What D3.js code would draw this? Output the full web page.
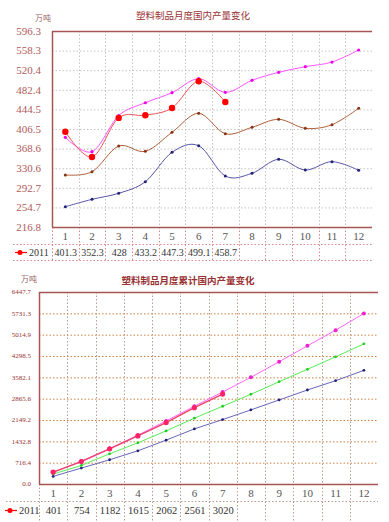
<!DOCTYPE html>
<html>
<head>
<meta charset="utf-8">
<style>
    body { margin: 0; background: #fff; }
    svg { display: block; }
    .num { font-family: "Liberation Serif", serif; }
    .cjk { font-family: "Noto Sans CJK SC", sans-serif; }
</style>
<script src="https://cdn.jsdelivr.net/npm/d3@7"></script>
</head>
<body>
<svg width="389" height="522"></svg>
<script>
    // data
    let months = ["1", "2", "3", "4", "5", "6", "7", "8", "9", "10", "11", "12"];

    let prod2011 = [401.3, 352.3, 428, 433.2, 447.3, 499.1, 458.7];
    let prodPink = [390.5, 362.6, 432.3, 457.4, 476.8, 503.9, 477.5, 500.8, 516.3, 527.2, 536.2, 559.5];
    let prodBrown = [317.5, 323.9, 373.5, 363.3, 400.1, 436.9, 397.4, 409.8, 425.3, 407.9, 414.9, 446.6];
    let prodNavy = [256.1, 270.4, 282, 304.5, 361.4, 374.2, 315.5, 320.8, 347.9, 327.2, 343.3, 326.6];
    let prodTicks = ["216.8", "254.7", "292.7", "330.6", "368.6", "406.5", "444.5", "482.4", "520.4", "558.3", "596.3"];

    let cum2011 = [401, 754, 1182, 1615, 2062, 2561, 3020];
    let cumPink = [390, 770, 1192, 1640, 2119, 2611, 3090, 3582, 4105, 4640, 5166, 5725];
    let cumGreen = [335, 623, 1014, 1383, 1784, 2210, 2611, 3013, 3435, 3850, 4272, 4707];
    let cumNavy = [254, 535, 814, 1115, 1473, 1851, 2163, 2488, 2822, 3157, 3469, 3817];
    let cumTicks = ["0.0", "716.4", "1432.8", "2149.2", "2865.6", "3582.1", "4298.5", "5014.9", "5731.3", "6447.7"];

    let svg = d3.select("svg");
    let axisColor = "#a65454";

    function drawChart(o) {
        let g = svg.append("g");
        let x = d3.scaleBand().domain(months).range([o.left, o.right]);
        let y = d3.scaleLinear().domain([+o.ticks[0], +o.ticks[o.ticks.length - 1]]).range([o.bottom, o.top]);

        // horizontal grid
        g.selectAll(".hg").data(o.ticks.slice(1, -1)).enter().append("line")
            .attr("x1", o.left).attr("x2", o.right)
            .attr("y1", d => y(+d) + 0.5).attr("y2", d => y(+d) + 0.5)
            .attr("stroke", o.hGrid).attr("stroke-dasharray", "1.5,2");

        // vertical grid in plot
        let bounds = months.slice(1).map(m => x(m));
        g.selectAll(".vg").data(bounds).enter().append("line")
            .attr("x1", d => Math.round(d) + 0.5).attr("x2", d => Math.round(d) + 0.5)
            .attr("y1", o.top).attr("y2", o.bottom)
            .attr("stroke", o.vGrid).attr("stroke-dasharray", "1.5,2");

        // table lines below axis
        g.selectAll(".tv").data([o.left].concat(bounds)).enter().append("line")
            .attr("x1", d => Math.round(d) + 0.5).attr("x2", d => Math.round(d) + 0.5)
            .attr("y1", o.bottom).attr("y2", o.tableBottom)
            .attr("stroke", o.tableColor).attr("stroke-dasharray", "1.5,2");
        g.selectAll(".th").data(o.tableLines).enter().append("line")
            .attr("x1", o.tableLeft).attr("x2", o.right)
            .attr("y1", d => d + 0.5).attr("y2", d => d + 0.5)
            .attr("stroke", o.tableColor).attr("stroke-dasharray", "1.5,2");

        // axes frame
        g.append("line").attr("x1", o.left).attr("x2", o.right)
            .attr("y1", o.top + 0.5).attr("y2", o.top + 0.5)
            .attr("stroke", axisColor).attr("stroke-width", 1.5);
        g.append("line").attr("x1", o.left).attr("x2", o.right)
            .attr("y1", o.bottom + 0.5).attr("y2", o.bottom + 0.5)
            .attr("stroke", axisColor).attr("stroke-width", 1.5);
        g.append("line").attr("x1", o.left + 0.5).attr("x2", o.left + 0.5)
            .attr("y1", o.top).attr("y2", o.bottom)
            .attr("stroke", axisColor).attr("stroke-width", 1.5);

        // y tick labels
        g.selectAll(".yl").data(o.ticks).enter().append("text")
            .attr("class", "num")
            .attr("x", o.left - o.labelGap).attr("y", d => y(+d))
            .attr("dy", "0.35em").attr("text-anchor", "end")
            .attr("font-size", o.yFont).attr("fill", o.yColor)
            .text(d => d);

        // x tick labels
        g.selectAll(".xl").data(months).enter().append("text")
            .attr("class", "num")
            .attr("x", d => x(d) + x.bandwidth() / 2).attr("y", o.xLabelY)
            .attr("text-anchor", "middle").attr("font-size", o.xFont).attr("fill", "#555")
            .text(d => d);

        // title and unit
        g.append("text").attr("class", "cjk")
            .attr("x", o.titleX).attr("y", o.titleY).attr("text-anchor", "middle")
            .attr("font-size", 9.5).attr("font-weight", o.titleWeight).attr("fill", "#993333")
            .text(o.title);
        g.append("text").attr("class", "cjk")
            .attr("x", o.unitX).attr("y", o.unitY)
            .attr("font-size", 8).attr("fill", "#996666")
            .text("万吨");

        let line = d3.line()
            .x((d, i) => x(months[i]) + x.bandwidth() / 2)
            .y(d => y(d))
            .curve(o.curve);

        o.series.forEach(s => {
            g.append("path").datum(s.values)
                .attr("d", line).attr("fill", "none")
                .attr("stroke", s.color).attr("stroke-width", s.width);
            g.selectAll(null).data(s.values).enter().append("circle")
                .attr("cx", (d, i) => x(months[i]) + x.bandwidth() / 2)
                .attr("cy", d => y(d))
                .attr("r", s.r).attr("fill", s.dot);
        });

        // table row
        let ly = o.rowY, lx = o.legendX;
        g.append("line").attr("x1", lx).attr("x2", lx + 12)
            .attr("y1", ly - 3.5).attr("y2", ly - 3.5).attr("stroke", "#ff0000").attr("stroke-width", 1.2);
        g.append("circle").attr("cx", lx + 5).attr("cy", ly - 3.5).attr("r", 2.5).attr("fill", "#ff0000");
        g.append("text").attr("class", "num")
            .attr("x", lx + 14).attr("y", ly)
            .attr("font-size", o.rowFont).attr("fill", "#333").text("2011");
        g.selectAll(".tv2").data(o.rowValues).enter().append("text")
            .attr("class", "num")
            .attr("x", (d, i) => x(months[i]) + x.bandwidth() / 2 + 0.5).attr("y", ly)
            .attr("text-anchor", "middle")
            .attr("font-size", o.rowFont).attr("fill", "#333")
            .text(d => d);
    }

    drawChart({
        left: 52, right: 372, top: 31, bottom: 227,
        ticks: prodTicks, hGrid: "#c4c4c4", vGrid: "#c4c4c4", tableColor: "#d88888",
        tableLeft: 13, tableLines: [244, 260], tableBottom: 260,
        labelGap: 11, yFont: 11, yColor: "#b05a5a", xFont: 11, xLabelY: 240,
        title: "塑料制品月度国内产量变化", titleX: 193, titleY: 19, titleWeight: "normal",
        unitX: 35, unitY: 21,
        curve: d3.curveCardinal,
        series: [
            { values: prodNavy, color: "#5555aa", dot: "#222277", width: 1, r: 1.5 },
            { values: prodBrown, color: "#b0603a", dot: "#883311", width: 1, r: 1.5 },
            { values: prodPink, color: "#ff55ff", dot: "#ee00ee", width: 1, r: 1.6 },
            { values: prod2011, color: "#ee5555", dot: "#ff0000", width: 1, r: 3.2 }
        ],
        legendX: 15, rowY: 256, rowFont: 10, rowValues: prod2011
    });

    drawChart({
        left: 39, right: 378, top: 292, bottom: 484,
        ticks: cumTicks, hGrid: "#d08040", vGrid: "#b89a90", tableColor: "#b89a90",
        tableLeft: 6, tableLines: [501], tableBottom: 522,
        labelGap: 8, yFont: 7, yColor: "#993333", xFont: 11, xLabelY: 497,
        title: "塑料制品月度累计国内产量变化", titleX: 188, titleY: 284, titleWeight: "bold",
        unitX: 21, unitY: 282,
        curve: d3.curveLinear,
        series: [
            { values: cumNavy, color: "#6666bb", dot: "#222277", width: 1, r: 1.4 },
            { values: cumGreen, color: "#55ee55", dot: "#22cc22", width: 1, r: 1.4 },
            { values: cumPink, color: "#ff66ff", dot: "#ee22cc", width: 1, r: 2 },
            { values: cum2011, color: "#ee4466", dot: "#ff2266", width: 1.4, r: 2.6 }
        ],
        legendX: 5, rowY: 514, rowFont: 10.5, rowValues: cum2011
    });
</script>
</body>
</html>
